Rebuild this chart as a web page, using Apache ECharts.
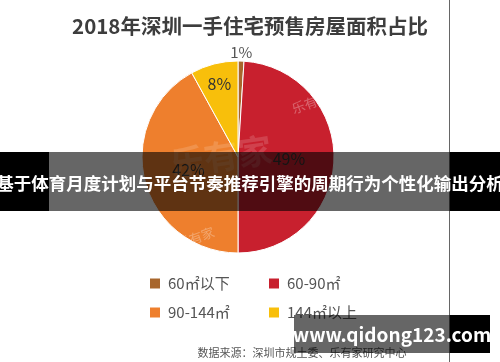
<!DOCTYPE html>
<html>
<head>
<meta charset="utf-8">
<script src="https://cdn.jsdelivr.net/npm/echarts@6/dist/echarts.min.js"></script>
<style>html,body{margin:0;padding:0;background:#fff;}#c{width:500px;height:362px;}</style>
</head>
<body>
<div id="c"></div>
<script>
const titleText = '2018年深圳一手住宅预售房屋面积占比';
const categories = ['60㎡以下', '60-90㎡', '90-144㎡', '144㎡以上'];
const values = [1, 49, 42, 8];
const colors = ['#A8662C', '#C8202E', '#EE7F2D', '#F8BF0B'];
const bannerText = '基于体育月度计划与平台节奏推荐引擎的周期行为个性化输出分析';
const siteText = 'www.qidong123.com';
const sourceText = '数据来源：深圳市规土委、乐有家研究中心';

const FONT = '"Noto Sans CJK SC", "Noto Sans", sans-serif';
const chart = echarts.init(document.getElementById('c'), null, {renderer: 'canvas'});

// main slices: labels at half radius for the two big slices
const mainData = categories.map((n, i) => ({
  name: n, value: values[i],
  itemStyle: {color: colors[i]},
  label: {show: i === 1 || i === 2}
}));
// invisible ring for the 8% label (further out)
const midRingData = categories.map((n, i) => ({
  name: n, value: values[i],
  label: {show: i === 3}
}));
// invisible outer ring for the 1% label (outside the pie)
const outerRingData = categories.map((n, i) => ({
  name: n, value: values[i],
  label: {show: i === 0}
}));

const Z = 100;
const ghost = {
  type: 'pie', center: [238, 157], startAngle: 90, clockwise: true,
  silent: true, legendHoverLink: false,
  itemStyle: {color: 'rgba(0,0,0,0)'},
  labelLine: {show: false}
};
chart.setOption({
  backgroundColor: '#fff',
  animation: false,
  title: {
    text: titleText, left: 'center', top: 11,
    textStyle: {fontFamily: FONT, fontSize: 20.5, fontWeight: 'bold', color: '#3d3d3d'}
  },
  legend: [
    {data: [categories[0], categories[2]], orient: 'vertical', left: 143, top: 271,
     itemWidth: 12, itemHeight: 12, itemGap: 14, icon: 'rect',
     textStyle: {fontFamily: FONT, fontSize: 15, color: '#555', padding: [0, 0, 0, 2], lineHeight: 14}},
    {data: [categories[1], categories[3]], orient: 'vertical', left: 262, top: 271,
     itemWidth: 12, itemHeight: 12, itemGap: 14, icon: 'rect',
     textStyle: {fontFamily: FONT, fontSize: 15, color: '#555', padding: [0, 0, 0, 2], lineHeight: 14}}
  ],
  series: [
    {
      type: 'pie', center: [238, 157], radius: [0, 96], startAngle: 90, clockwise: true,
      silent: true,
      itemStyle: {borderColor: '#fff', borderWidth: 1},
      label: {position: 'inside', formatter: '{c}%', fontFamily: FONT, fontSize: 16, color: '#333'},
      labelLine: {show: false},
      data: mainData
    },
    Object.assign({}, ghost, {
      radius: [48, 96],
      label: {position: 'inside', formatter: '{c}%', fontFamily: FONT, fontSize: 16, color: '#333'},
      data: midRingData
    }),
    Object.assign({}, ghost, {
      radius: [96, 108],
      label: {position: 'inside', formatter: '{c}%', fontFamily: FONT, fontSize: 15, color: '#555'},
      data: outerRingData
    })
  ],
  graphic: [
    {type: 'text', z: Z, left: 168, top: 132, rotation: 0.15, silent: true,
     style: {text: '乐有家', fontSize: 34, fontWeight: 'bold', fontFamily: FONT, fill: 'rgba(255,255,255,0.15)'}},
    {type: 'text', z: Z, left: 290, top: 90, rotation: 0.35, silent: true,
     style: {text: '乐有家', fontSize: 13, fontFamily: FONT, fill: 'rgba(255,255,255,0.3)'}},
    {type: 'text', z: Z, left: 175, top: 225, rotation: 0.35, silent: true,
     style: {text: '乐有家', fontSize: 13, fontFamily: FONT, fill: 'rgba(255,255,255,0.3)'}},
    {type: 'text', z: Z, left: 290, top: 222, rotation: 0.35, silent: true,
     style: {text: '乐有家', fontSize: 13, fontFamily: FONT, fill: 'rgba(255,255,255,0.3)'}},
    {type: 'line', z: Z, silent: true, shape: {x1: 449.5, y1: 0, x2: 449.5, y2: 362},
     style: {stroke: '#666', lineWidth: 1}},
    {type: 'rect', z: Z, silent: true, shape: {x: 0, y: 152, width: 500, height: 59},
     style: {fill: 'rgba(0,0,0,0.6)'}},
    {type: 'rect', z: Z, silent: true, shape: {x: 0, y: 152, width: 49, height: 59},
     style: {fill: '#000'}},
    {type: 'rect', z: Z, silent: true, shape: {x: 450, y: 152, width: 50, height: 59},
     style: {fill: '#000'}},
    {type: 'text', z: Z + 1, silent: true, x: 250, y: 183,
     style: {text: bannerText, fontSize: 17.5, fontWeight: 'bold', fontFamily: FONT, fill: '#fff',
             align: 'center', verticalAlign: 'middle'}},
    {type: 'text', z: Z, silent: true, x: 302, y: 353,
     style: {text: sourceText, fontSize: 11, fontFamily: FONT, fill: '#555',
             align: 'center', verticalAlign: 'middle'}},
    {type: 'rect', z: Z + 1, silent: true, shape: {x: 294, y: 315, width: 196, height: 38},
     style: {fill: 'rgba(0,0,0,0.6)'}},
    {type: 'rect', z: Z + 1, silent: true, shape: {x: 450, y: 315, width: 40, height: 38},
     style: {fill: '#000'}},
    {type: 'text', z: Z + 2, silent: true, x: 392, y: 335,
     style: {text: siteText, fontSize: 19, fontWeight: 'bold', fontFamily: FONT, fill: '#fff',
             align: 'center', verticalAlign: 'middle'}}
  ]
});
</script>
</body>
</html>
